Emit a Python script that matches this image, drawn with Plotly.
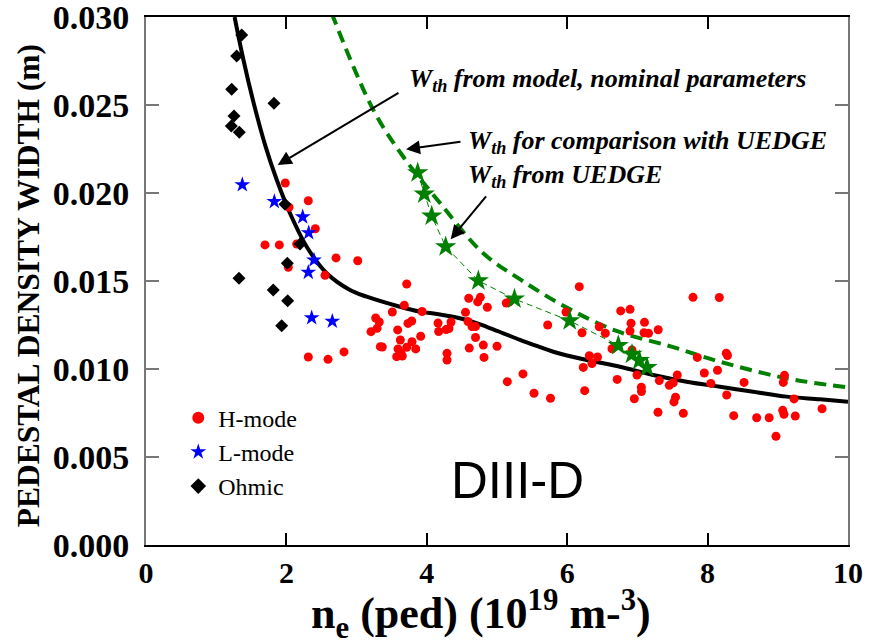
import plotly.graph_objects as go

# ---------------- data ----------------
ohmic_ne = [1.363, 1.292, 1.221, 1.823, 1.254, 1.215, 1.329, 1.980, 2.194, 2.013, 1.325, 1.813, 2.018, 1.933]
ohmic_w = [0.02898, 0.02778, 0.02589, 0.02510, 0.02438, 0.02381, 0.02345, 0.01936, 0.01710, 0.01601, 0.01515, 0.01449, 0.01388, 0.01246]

lmode_ne = [1.372, 1.828, 2.232, 2.318, 2.393, 2.312, 2.360, 2.654]
lmode_w = [0.02047, 0.01951, 0.01864, 0.01774, 0.01619, 0.01549, 0.01291, 0.01271]

hmode_ne = [1.984, 2.312, 2.037, 2.412, 1.695, 1.899, 2.147, 2.707, 3.016, 2.027,
            2.550, 3.714, 3.679, 3.509, 3.932, 3.272, 3.323, 3.732, 3.785, 4.160,
            4.345, 3.291, 3.205, 3.585, 4.169, 4.274, 4.316, 3.913, 3.623, 3.789,
            3.338, 3.366, 3.590, 3.714, 3.842, 3.632, 3.571, 3.651, 2.312, 2.593,
            2.821, 4.288, 4.288, 4.597, 4.762, 4.725, 4.862, 4.551, 4.587, 4.644,
            4.694, 4.694, 4.805, 4.605, 5.000, 4.815, 5.147, 5.370, 5.527, 5.762,
            6.172, 5.132, 5.178, 5.983, 5.722, 6.211, 6.457, 6.543, 6.315, 6.353,
            6.432, 6.229, 6.638, 6.712, 6.249, 6.762, 6.895, 6.909, 6.895, 7.101,
            7.094, 7.158, 7.296, 6.923, 6.994, 7.056, 7.058, 6.956, 7.293, 7.312,
            7.454, 7.511, 7.568, 7.543, 7.521, 7.654, 7.792, 8.167, 7.853, 7.953,
            8.141, 8.046, 8.266, 8.283, 8.272, 8.519, 8.372, 8.699, 8.877, 8.974,
            9.095, 9.078, 9.231, 9.070, 9.088, 9.249, 9.630]
hmode_w = [0.02057, 0.01956, 0.01919, 0.01797, 0.01705, 0.01705, 0.01710, 0.01631, 0.01615, 0.01578,
           0.01532, 0.01483, 0.01362, 0.01324, 0.01327, 0.01290, 0.01267, 0.01259, 0.01273, 0.01261,
           0.01267, 0.01231, 0.01212, 0.01222, 0.01213, 0.01224, 0.01230, 0.01186, 0.01165, 0.01155,
           0.01127, 0.01125, 0.01114, 0.01123, 0.01114, 0.01089, 0.01070, 0.01074, 0.01068, 0.01055,
           0.01097, 0.01089, 0.01051, 0.01402, 0.01407, 0.01381, 0.01351, 0.01322, 0.01270, 0.01241,
           0.01241, 0.01179, 0.01136, 0.01119, 0.01129, 0.01066, 0.00928, 0.00972, 0.00862, 0.00834,
           0.01468, 0.01375, 0.01381, 0.01324, 0.01250, 0.01206, 0.01240, 0.01203, 0.01075, 0.01031,
           0.01068, 0.01009, 0.01115, 0.00941, 0.00877, 0.01330, 0.01339, 0.01260, 0.01216, 0.01265,
           0.01206, 0.01203, 0.01223, 0.01108, 0.00966, 0.00896, 0.00872, 0.00831, 0.00754, 0.00934,
           0.00907, 0.00922, 0.00966, 0.00840, 0.00813, 0.00748, 0.01407, 0.01406, 0.01066, 0.00977,
           0.00993, 0.00918, 0.01090, 0.01077, 0.00852, 0.00924, 0.00735, 0.00723, 0.00723, 0.00618,
           0.00964, 0.00924, 0.00830, 0.00765, 0.00743, 0.00733, 0.00774]

uedge_ne = [3.870, 3.964, 4.070, 4.269, 4.734, 5.249, 6.036, 6.728, 6.923, 7.027, 7.137]
uedge_w = [0.02115, 0.01994, 0.01869, 0.01695, 0.01502, 0.01398, 0.01274, 0.01134, 0.01084, 0.01048, 0.01009]

model_ne = [1.262, 1.386, 1.528, 1.695, 1.862, 2.051, 2.289, 2.574, 2.906, 3.144, 3.618, 3.903,
            4.141, 4.377, 4.615, 4.853, 5.090, 5.328, 5.565, 5.802, 6.278, 6.752, 7.226, 7.702,
            8.177, 8.651, 9.127, 9.601, 10.0]
model_w = [0.03000, 0.02760, 0.02520, 0.02275, 0.02075, 0.01885, 0.01695, 0.01544, 0.01449, 0.01411,
           0.01354, 0.01326, 0.01313, 0.01297, 0.01273, 0.01240, 0.01203, 0.01165, 0.01131, 0.01098,
           0.01051, 0.01013, 0.00966, 0.00928, 0.00899, 0.00871, 0.00843, 0.00828, 0.00814]

comp_ne = [2.645, 3.238, 3.665, 4.188, 4.800, 5.342, 5.993, 6.702, 7.486, 8.177, 9.127, 9.981]
comp_w = [0.03021, 0.02472, 0.02206, 0.01943, 0.01659, 0.01506, 0.01349, 0.01216, 0.01127, 0.01041, 0.00947, 0.00896]

y_ticks = [0, 0.005, 0.010, 0.015, 0.020, 0.025, 0.030]
y_labels = ["0.000", "0.005", "0.010", "0.015", "0.020", "0.025", "0.030"]
x_ticks = [0, 2, 4, 6, 8, 10]
x_labels = ["0", "2", "4", "6", "8", "10"]

SERIF = "Liberation Serif"
SANS = "Liberation Sans"

fig = go.Figure()

fig.add_trace(go.Scatter(x=comp_ne, y=comp_w, mode="lines", showlegend=False,
                         line=dict(color="#008000", width=4, dash="12px,7px", shape="spline")))
fig.add_trace(go.Scatter(x=model_ne, y=model_w, mode="lines", showlegend=False,
                         line=dict(color="black", width=4, shape="spline", smoothing=1)))
fig.add_trace(go.Scatter(x=hmode_ne, y=hmode_w, mode="markers", name="H-mode",
                         marker=dict(symbol="circle", color="#ff0000", size=9)))
fig.add_trace(go.Scatter(x=lmode_ne, y=lmode_w, mode="markers", name="L-mode",
                         marker=dict(symbol="star", color="#0000ff", size=12)))
fig.add_trace(go.Scatter(x=ohmic_ne, y=ohmic_w, mode="markers", name="Ohmic",
                         marker=dict(symbol="diamond", color="black", size=10)))
fig.add_trace(go.Scatter(x=uedge_ne, y=uedge_w, mode="lines+markers", showlegend=False,
                         line=dict(color="#008000", width=1, dash="6px,4px"),
                         marker=dict(symbol="star", color="#008000", size=16)))

ann_font = dict(family=SERIF, size=26, color="black", style="italic", weight="bold")

# arrows (head x,y ; tail ax,ay in data units)
arrows = [
    (1.876, 0.02159, 3.618, 0.02574),
    (3.704, 0.02248, 4.501, 0.02292),
    (4.340, 0.01737, 4.862, 0.01989),
]
for hx, hy, tx, ty in arrows:
    fig.add_annotation(x=hx, y=hy, ax=tx, ay=ty, xref="x", yref="y", axref="x", ayref="y",
                       text="", showarrow=True, arrowhead=2, arrowsize=1.4, arrowwidth=2,
                       arrowcolor="black", standoff=0, startstandoff=0)

texts = [
    (3.718, 0.02642, "W<sub>th</sub> from model, nominal parameters"),
    (4.558, 0.02290, "W<sub>th</sub> for comparison with UEDGE"),
    (4.558, 0.02095, "W<sub>th</sub> from UEDGE"),
]
for tx, ty, t in texts:
    fig.add_annotation(x=tx, y=ty, xref="x", yref="y", text=t, showarrow=False,
                       xanchor="left", yanchor="middle", font=ann_font)

fig.add_annotation(x=5.285, y=0.00364, xref="x", yref="y", text="DIII-D", showarrow=False,
                   xanchor="center", yanchor="middle",
                   font=dict(family=SANS, size=51, color="black"))

# axis titles as paper annotations
fig.add_annotation(x=0.477, y=-0.131, xref="paper", yref="paper",
                   text="n<sub>e</sub> (ped) (10<sup>19</sup> m-<sup>3</sup>)", showarrow=False,
                   xanchor="center", yanchor="middle",
                   font=dict(family=SERIF, size=44, color="black", weight="bold"))
fig.add_annotation(x=-0.168, y=0.49, xref="paper", yref="paper",
                   text="PEDESTAL DENSITY WIDTH (m)", showarrow=False, textangle=-90,
                   xanchor="center", yanchor="middle",
                   font=dict(family=SERIF, size=31.5, color="black", weight="bold"))

fig.update_layout(
    width=876, height=644,
    margin=dict(l=146, r=28, t=17, b=99, autoexpand=False),
    paper_bgcolor="white", plot_bgcolor="white",
    showlegend=True,
    legend=dict(x=0.046, y=0.283, xanchor="left", yanchor="top",
                font=dict(family=SERIF, size=24, color="black"),
                bgcolor="rgba(0,0,0,0)", itemsizing="constant", tracegroupgap=0),
    xaxis=dict(range=[0, 10], tickvals=x_ticks, ticktext=x_labels,
               automargin=False, ticklabeloverflow="allow",
               showgrid=False, zeroline=False, showline=True, linecolor="black", linewidth=2,
               mirror="ticks", ticks="inside", ticklen=12, tickwidth=1.5, tickcolor="black",
               tickfont=dict(family=SERIF, size=30, color="black", weight="bold")),
    yaxis=dict(range=[0, 0.030], tickvals=y_ticks, ticktext=y_labels,
               automargin=False, ticklabeloverflow="allow",
               showgrid=False, zeroline=False, showline=True, linecolor="#777777", linewidth=2,
               mirror="ticks", ticks="inside", ticklen=13, tickwidth=2, tickcolor="#777777",
               ticklabelstandoff=8,
               tickfont=dict(family=SERIF, size=34, color="black", weight="bold")),
)

fig.write_html("out.html")
